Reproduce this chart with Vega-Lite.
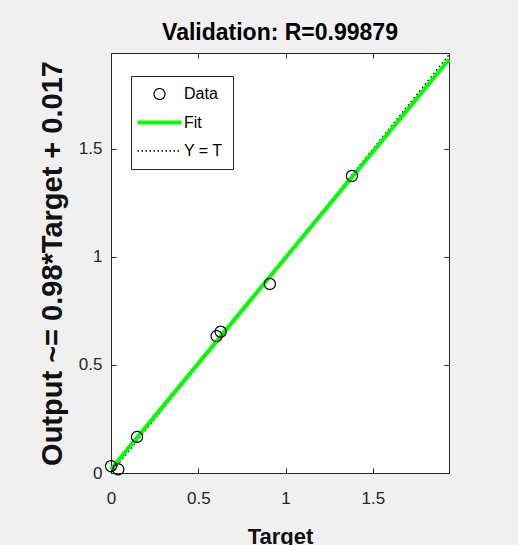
{
  "$schema": "https://vega.github.io/schema/vega-lite/v6.json",
  "width": 338,
  "height": 420,
  "autosize": {"type": "none"},
  "padding": {"left": 111, "top": 53, "right": 69, "bottom": 72},
  "background": "#f0f0f0",
  "title": {"text": "Validation: R=0.99879", "fontSize": 23, "fontWeight": "bold", "font": "Liberation Sans", "color": "#000000", "offset": 6, "anchor": "middle"},
  "datasets": {
    "points": [
      {"target": 0.0, "output": 0.032, "series": "Data"},
      {"target": 0.042, "output": 0.017, "series": "Data"},
      {"target": 0.149, "output": 0.167, "series": "Data"},
      {"target": 0.605, "output": 0.634, "series": "Data"},
      {"target": 0.628, "output": 0.654, "series": "Data"},
      {"target": 0.91, "output": 0.875, "series": "Data"},
      {"target": 1.38, "output": 1.375, "series": "Data"}
    ],
    "fit": [{"target": 0, "output": 0.017}, {"target": 1.936, "output": 1.914}],
    "ident": [{"target": 0, "output": 0}, {"target": 1.936, "output": 1.936}]
  },
  "layer": [
    {
      "data": {"name": "ident"},
      "mark": {"type": "line", "color": "#000000", "strokeWidth": 1.4, "strokeDash": [1.5, 3], "clip": false},
      "encoding": {
        "x": {"field": "target", "type": "quantitative", "scale": {"domain": [0, 1.936], "nice": false, "zero": false},
              "axis": {"orient": "top", "labels": false, "title": null, "values": [0, 0.5, 1, 1.5]}},
        "y": {"field": "output", "type": "quantitative", "scale": {"domain": [0, 1.944], "nice": false, "zero": false},
              "axis": {"orient": "right", "labels": false, "title": null, "values": [0, 0.5, 1, 1.5]}}
      }
    },
    {
      "data": {"name": "fit"},
      "mark": {"type": "line", "color": "#00ff00", "strokeWidth": 4, "clip": false},
      "encoding": {
        "x": {"field": "target", "type": "quantitative",
              "axis": {"orient": "bottom", "title": "Target", "values": [0, 0.5, 1, 1.5], "format": "~g", "labelPadding": 22, "titleFontSize": 22, "titlePadding": 20}},
        "y": {"field": "output", "type": "quantitative",
              "axis": {"orient": "left", "title": "Output ~= 0.98*Target + 0.017", "values": [0, 0.5, 1, 1.5], "format": "~g", "labelPadding": 14, "titleFontSize": 29, "titlePadding": 11}}
      }
    },
    {
      "data": {"name": "points"},
      "mark": {"type": "point", "size": 121, "filled": false, "opacity": 1, "clip": false},
      "encoding": {
        "x": {"field": "target", "type": "quantitative", "axis": null},
        "y": {"field": "output", "type": "quantitative", "axis": null},
        "color": {
          "field": "series", "type": "nominal",
          "scale": {"domain": ["Data", "Fit", "Y = T"], "range": ["#000000", "#00ff00", "#000000"]},
          "legend": {
            "title": null, "orient": "none", "legendX": 20, "legendY": 23, "padding": 10,
            "strokeColor": "#262626", "fillColor": "#ffffff", "cornerRadius": 0,
            "symbolSize": 121, "symbolOffset": 10.5, "labelOffset": 16.5, "rowPadding": 12.5,
            "labelFontSize": 16, "labelFont": "Liberation Sans", "labelColor": "#000000"
          }
        },
        "shape": {
          "field": "series", "type": "nominal",
          "scale": {"domain": ["Data", "Fit", "Y = T"], "range": ["circle", "M-4,0L4,0", "M-4,0L4,0"]},
          "legend": {}
        },
        "strokeDash": {
          "field": "series", "type": "nominal",
          "scale": {"domain": ["Data", "Fit", "Y = T"], "range": [[1, 0], [1, 0], [1.5, 2.5]]},
          "legend": {}
        },
        "strokeWidth": {
          "field": "series", "type": "nominal",
          "scale": {"type": "ordinal", "domain": ["Data", "Fit", "Y = T"], "range": [1.2, 4, 1.4]},
          "legend": {}
        }
      }
    }
  ],
  "resolve": {"axis": {"x": "independent", "y": "independent"}},
  "config": {
    "view": {"fill": "#ffffff", "stroke": "#262626", "strokeWidth": 1},
    "axis": {
      "domain": false, "grid": false, "tickSize": -5, "tickColor": "#262626", "tickWidth": 1, "labelFlush": false,
      "labelPadding": 14, "labelFont": "Liberation Sans", "labelFontSize": 17, "labelColor": "#262626",
      "titleFont": "Liberation Sans", "titleFontWeight": "bold", "titleColor": "#111111"
    }
  }
}
